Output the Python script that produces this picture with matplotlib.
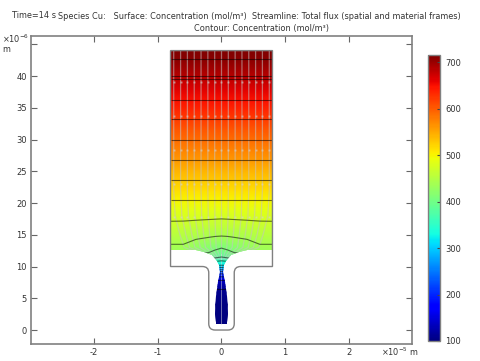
import numpy as np
import matplotlib
matplotlib.use('Agg')
import matplotlib.pyplot as plt
from matplotlib.patches import PathPatch
from matplotlib.path import Path

W, H = 481, 361
TEXT = '#333333'
EDGE = '#808080'

# concentration table (x and y in micrometres)
x_half = [0, 1, 2, 4, 6, 8]
y_rows = [1, 4, 6.5, 7.5, 8, 9, 9.5, 10.2, 10.9, 11.5, 12, 12.6, 13.5, 14.8, 16, 17.5, 19, 20.5,
          22, 23.7, 25.2, 26.8, 28.4, 30, 31.6, 33.2, 34.7, 36.3, 37.9, 39.5, 40, 42.6, 44]
conc_half = [
    [100, 100, 100, 100, 100, 100],
    [102, 102, 102, 102, 102, 102],
    [110, 110, 110, 110, 110, 110],
    [130, 130, 130, 130, 130, 130],
    [145, 145, 145, 145, 145, 145],
    [210, 212, 215, 215, 215, 215],
    [260, 262, 265, 265, 265, 265],
    [320, 322, 325, 325, 325, 325],
    [350, 355, 360, 360, 360, 360],
    [380, 388, 395, 395, 395, 395],
    [392, 400, 408, 410, 410, 410],
    [405, 410, 414, 424, 433, 435],
    [420, 421, 424, 431, 440, 440],
    [440, 441, 443, 446, 451, 452],
    [455, 455, 456, 458, 460, 461],
    [470, 470.5, 471, 472, 473, 473],
    [485, 485, 485, 486, 486, 486],
    [500, 500, 500, 500, 500, 500],
    [515, 515, 515, 515, 515, 515],
    [530, 530, 530, 530, 530, 530],
    [545, 545, 545, 545, 545, 545],
    [560, 560, 560, 560, 560, 560],
    [575, 575, 575, 575, 575, 575],
    [590, 590, 590, 590, 590, 590],
    [605, 605, 605, 605, 605, 605],
    [620, 620, 620, 620, 620, 620],
    [635, 635, 635, 635, 635, 635],
    [650, 650, 650, 650, 650, 650],
    [665, 665, 665, 665, 665, 665],
    [680, 680, 680, 680, 680, 680],
    [685, 685, 685, 685, 685, 685],
    [710, 710, 710, 710, 710, 710],
    [716, 716, 716, 716, 716, 716],
]
contour_levels = [110, 140, 170, 200, 230, 260, 290, 320, 350, 380, 410, 440, 470, 500,
                  530, 560, 590, 620, 650, 680, 685, 710]

# half width of the coloured domain at each height
domain_y = [1, 1.2, 2.5, 5.4, 7.5, 9.1, 10.2, 10.8, 11.8, 12.3, 12.6, 12.6, 44]
domain_w = [0.8, 0.92, 1.0, 0.85, 0.55, 0.28, 0.36, 0.73, 1.5, 2.7, 4, 8, 8]

# flux lines: start positions and how far they squeeze in on the way down
stream_x0 = [0, 1.07, 2.14, 3.21, 4.28, 5.35, 6.42, 7.5]
stream_y = [44, 22, 18, 15, 13, 12, 11.2]
stream_scale = [1, 1, 0.97, 0.87, 0.78, 0.42, 0.2]
arrow_y = [39, 33.7, 28.3, 23, 17.8]
neck_line_y = [1, 12]

x_ticks = [-20, -10, 0, 10, 20]
x_labels = ['-2', '-1', '0', '1', '2']
y_ticks = [0, 5, 10, 15, 20, 25, 30, 35, 40, 45]
y_labels = ['0', '5', '10', '15', '20', '25', '30', '35', '40', '']
cbar_ticks = [100, 200, 300, 400, 500, 600, 700]


def px_rect(left, top, right, bottom):
    return [left / W, 1 - bottom / H, (right - left) / W, (bottom - top) / H]


def outline_path():
    verts = [(-8, 44), (8, 44), (8, 10), (3, 10), (2, 10), (2, 9), (2, 1), (2, 0), (1, 0),
             (-1, 0), (-2, 0), (-2, 1), (-2, 9), (-2, 10), (-3, 10), (-8, 10), (-8, 44)]
    codes = [Path.MOVETO, Path.LINETO, Path.LINETO, Path.LINETO, Path.CURVE3, Path.CURVE3,
             Path.LINETO, Path.CURVE3, Path.CURVE3, Path.LINETO, Path.CURVE3, Path.CURVE3,
             Path.LINETO, Path.CURVE3, Path.CURVE3, Path.LINETO, Path.LINETO]
    return Path(verts, codes)


fig = plt.figure(figsize=(W / 100, H / 100), dpi=100)
ax = fig.add_axes(px_rect(31, 36, 412, 344))
ax.set_xlim(-29.9, 29.9)
ax.set_ylim(-2.2, 46.3)

# mirror the half table around x=0
half = np.array(conc_half, dtype=float)
conc = np.hstack([half[:, :0:-1], half])
xs = np.concatenate([-np.array(x_half[:0:-1], dtype=float), np.array(x_half, dtype=float)])
ys = np.array(y_rows, dtype=float)

dom_y = np.array(domain_y)
dom_w = np.array(domain_w)
domain = Path(np.column_stack([np.concatenate([dom_w, -dom_w[::-1]]),
                               np.concatenate([dom_y, dom_y[::-1]])]))
domain_patch = PathPatch(domain, transform=ax.transData, fc='none', ec='none')
ax.add_patch(domain_patch)

mesh = ax.pcolormesh(xs, ys, conc, cmap='jet', vmin=100, vmax=716, shading='gouraud')
mesh.set_clip_path(domain_patch)

# streamlines
for x0 in stream_x0:
    for side in ([1] if x0 == 0 else [1, -1]):
        sx = side * x0 * np.array(stream_scale)
        ln, = ax.plot(sx, stream_y, color='#c4c4c4', alpha=0.55, lw=0.9, zorder=2)
        ln.set_clip_path(domain_patch)
        ax.plot(side * x0 * np.ones(len(arrow_y)), arrow_y, ls='none', marker='s', ms=1.4,
                mec='none', mfc='#d4d4d4', alpha=0.6, zorder=2)
ax.plot([0, 0], neck_line_y, color='#dddddd', alpha=0.5, lw=0.7, zorder=2)

lines = ax.contour(xs, ys, conc, levels=contour_levels, colors='black', linewidths=0.8,
                   alpha=0.55, zorder=3)
lines.set_clip_path(domain_patch)

ax.add_patch(PathPatch(outline_path(), fc='none', ec=EDGE, lw=1.0, zorder=4))

ax.set_xticks(x_ticks)
ax.set_xticklabels(x_labels)
ax.set_yticks(y_ticks)
ax.set_yticklabels(y_labels)
ax.tick_params(direction='in', length=4, width=0.8, color='#666666', labelcolor=TEXT, labelsize=6,
               top=True, right=True, pad=3)
for s in ax.spines.values():
    s.set_color(EDGE)
    s.set_linewidth(1.2)

cax = fig.add_axes(px_rect(428, 55, 440, 341))
cbar = fig.colorbar(mesh, cax=cax)
cbar.set_ticks(cbar_ticks)
cbar.ax.tick_params(direction='in', length=2, width=0.8, color='#444444', labelcolor=TEXT, labelsize=6, pad=4)
cbar.outline.set_edgecolor(EDGE)
cbar.outline.set_linewidth(1.0)


def put(px, py, s, ha='left', size=5.9):
    fig.text(px / W, 1 - py / H, s, ha=ha, va='center', fontsize=size, color=TEXT)


put(12, 15.5, 'Time=14 s')
put(58, 16.5, 'Species Cu:   Surface: Concentration (mol/m³)  Streamline: Total flux (spatial and material frames)')
put(262, 28, 'Contour: Concentration (mol/m³)', ha='center')
put(2, 39, r'$\times$10$^{-6}$')
put(2, 50, 'm')
put(381, 352, r'$\times$10$^{-5}$ m')

fig.savefig('out.png', dpi=100)
